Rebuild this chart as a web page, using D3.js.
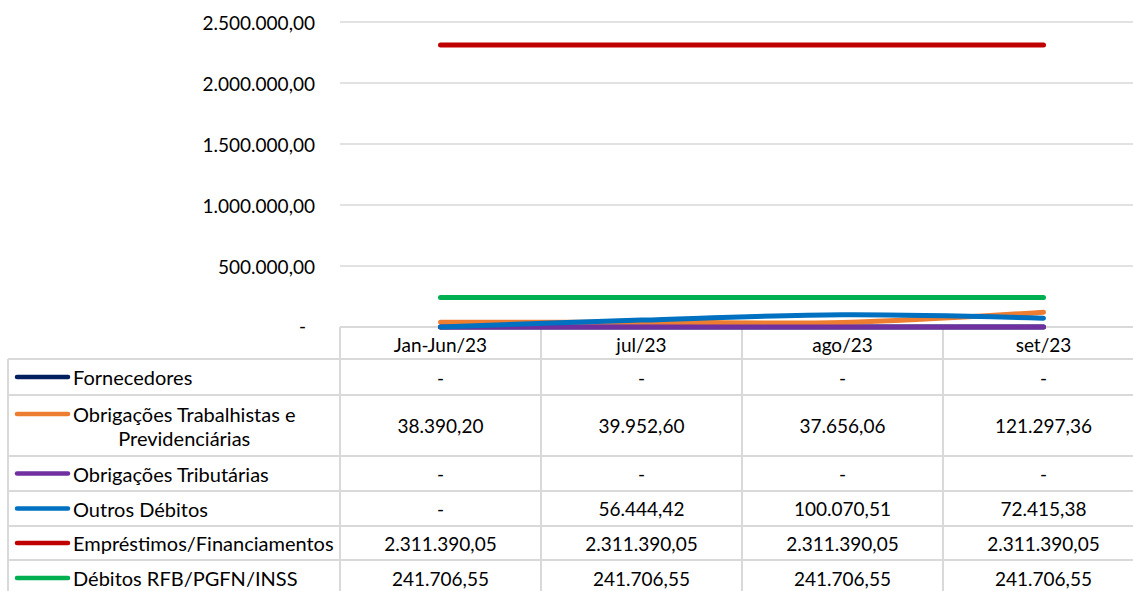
<!DOCTYPE html>
<html>
<head>
<meta charset="utf-8">
<script src="https://cdn.jsdelivr.net/npm/d3@7"></script>
<style>
  body { margin: 0; background: #fff; }
  svg { display: block; font-family: Lato, "Noto Sans", sans-serif; }
</style>
</head>
<body>
<div id="chart"></div>
<script>
// chart values
const categories = ["Jan-Jun/23", "jul/23", "ago/23", "set/23"];
const seriesNames = [
  "Fornecedores",
  "Obrigações Trabalhistas e Previdenciárias",
  "Obrigações Tributárias",
  "Outros Débitos",
  "Empréstimos/Financiamentos",
  "Débitos RFB/PGFN/INSS"
];
const fornecedores = [0, 0, 0, 0];
const obrigTrabalhistas = [38390.20, 39952.60, 37656.06, 121297.36];
const obrigTributarias = [0, 0, 0, 0];
const outrosDebitos = [0, 56444.42, 100070.51, 72415.38];
const emprestimos = [2311390.05, 2311390.05, 2311390.05, 2311390.05];
const debitosRfb = [241706.55, 241706.55, 241706.55, 241706.55];
const yTicks = [0, 500000, 1000000, 1500000, 2000000, 2500000];

const seriesValues = [fornecedores, obrigTrabalhistas, obrigTributarias, outrosDebitos, emprestimos, debitosRfb];
const colors = ["#002060", "#ED7D31", "#7030A0", "#0070C0", "#C00000", "#00B050"];
// label lines for the table (the long one wraps in two lines)
const labelLines = [
  ["Fornecedores"],
  ["Obrigações Trabalhistas e", "Previdenciárias"],
  ["Obrigações Tributárias"],
  ["Outros Débitos"],
  ["Empréstimos/Financiamentos"],
  ["Débitos RFB/PGFN/INSS"]
];

const W = 1133, H = 591;
const plotLeft = 340, colW = 201;
const tableLeft = 8;
const headerTop = 327, headerBottom = 359;
const rowHeights = [36, 61, 35, 35, 34, 36];
const gridColor = "#d9d9d9";
const fontSize = 19;
const labelSize = 20;

const br = d3.formatLocale({ decimal: ",", thousands: ".", grouping: [3], currency: ["", ""] });
const fmt = (v) => (v === 0 ? "-" : br.format(",.2f")(v));

const svg = d3.select("#chart").append("svg").attr("width", W).attr("height", H);

const x = d3.scaleBand().domain(categories).range([plotLeft, plotLeft + colW * categories.length]);
const y = d3.scaleLinear().domain([0, 2500000]).range([headerTop, 22]);

// gridlines
svg.append("g")
  .selectAll("line")
  .data(yTicks.filter((d) => d > 0))
  .join("line")
  .attr("x1", plotLeft)
  .attr("x2", W)
  .attr("y1", (d) => y(d))
  .attr("y2", (d) => y(d))
  .attr("stroke", gridColor)
  .attr("stroke-width", 1.3);

// y tick labels
svg.append("g")
  .selectAll("text")
  .data(yTicks)
  .join("text")
  .attr("x", (d) => (d === 0 ? 306 : 315))
  .attr("y", (d) => y(d) + (d === 0 ? -2 : 0))
  .attr("text-anchor", "end")
  .attr("dominant-baseline", "central")
  .attr("font-size", fontSize)
  .attr("fill", "#000")
  .text((d) => fmt(d));

// table rows
const rowTops = [headerBottom];
rowHeights.forEach((h, i) => rowTops.push(rowTops[i] + h));

const table = svg.append("g");
const tableRight = plotLeft + colW * categories.length;

// header border
table.append("line")
  .attr("x1", plotLeft).attr("x2", tableRight)
  .attr("y1", headerTop).attr("y2", headerTop)
  .attr("stroke", gridColor).attr("stroke-width", 2);

table.selectAll(".hline")
  .data(rowTops)
  .join("line")
  .attr("x1", tableLeft).attr("x2", tableRight)
  .attr("y1", (d) => d).attr("y2", (d) => d)
  .attr("stroke", gridColor).attr("stroke-width", 2);

table.append("line")
  .attr("x1", tableLeft).attr("x2", tableLeft)
  .attr("y1", headerBottom).attr("y2", H)
  .attr("stroke", gridColor).attr("stroke-width", 2);

table.selectAll(".vline")
  .data(categories.concat(["end"]))
  .join("line")
  .attr("x1", (d, i) => plotLeft + i * colW)
  .attr("x2", (d, i) => plotLeft + i * colW)
  .attr("y1", headerTop).attr("y2", H)
  .attr("stroke", gridColor).attr("stroke-width", 2);

// header labels
table.selectAll(".head")
  .data(categories)
  .join("text")
  .attr("x", (d) => x(d) + x.bandwidth() / 2)
  .attr("y", (headerTop + headerBottom) / 2 + 1)
  .attr("text-anchor", "middle")
  .attr("dominant-baseline", "central")
  .attr("font-size", fontSize)
  .text((d) => d);

// row legend keys + labels + values
seriesNames.forEach((name, i) => {
  const top = rowTops[i], bottom = rowTops[i + 1];
  const lines = labelLines[i];
  const mid = (top + bottom) / 2;
  const firstY = lines.length > 1 ? top + 19 : mid;

  table.append("line")
    .attr("x1", 17).attr("x2", 68)
    .attr("y1", firstY).attr("y2", firstY)
    .attr("stroke", colors[i])
    .attr("stroke-width", 4.5)
    .attr("stroke-linecap", "round");

  if (lines.length > 1) {
    const t1 = table.append("text")
      .attr("x", 73).attr("y", firstY)
      .attr("dominant-baseline", "central")
      .attr("font-size", labelSize)
      .text(lines[0]);
    const w1 = t1.node().getComputedTextLength();
    table.append("text")
      .attr("x", 73 + w1 / 2).attr("y", firstY + 24)
      .attr("text-anchor", "middle")
      .attr("dominant-baseline", "central")
      .attr("font-size", labelSize)
      .text(lines[1]);
  } else {
    table.append("text")
      .attr("x", 73).attr("y", firstY)
      .attr("dominant-baseline", "central")
      .attr("font-size", labelSize)
      .text(lines[0]);
  }

  table.selectAll(".val" + i)
    .data(seriesValues[i])
    .join("text")
    .attr("x", (d, j) => x(categories[j]) + x.bandwidth() / 2)
    .attr("y", mid)
    .attr("text-anchor", "middle")
    .attr("dominant-baseline", "central")
    .attr("font-size", fontSize)
    .text((d) => fmt(d));
});

// lines
const line = d3.line()
  .x((d, j) => x(categories[j]) + x.bandwidth() / 2)
  .y((d) => y(d))
  .curve(d3.curveCatmullRom.alpha(0));

svg.append("g")
  .selectAll("path")
  .data(seriesValues)
  .join("path")
  .attr("d", (d) => line(d))
  .attr("fill", "none")
  .attr("stroke", (d, i) => colors[i])
  .attr("stroke-width", 5)
  .attr("stroke-linecap", "round")
  .attr("stroke-linejoin", "round");
</script>
</body>
</html>
